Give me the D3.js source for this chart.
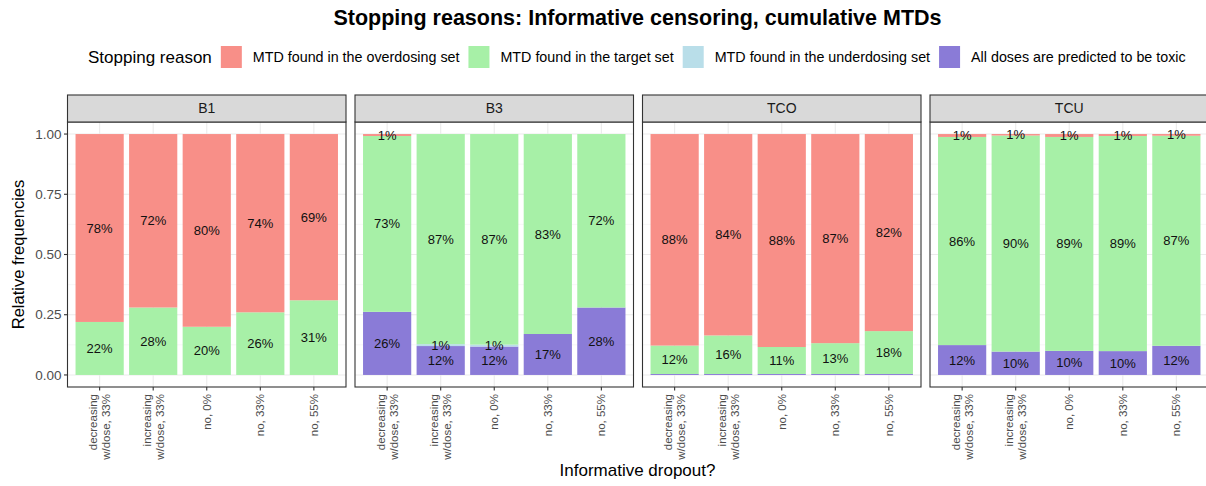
<!DOCTYPE html>
<html><head><meta charset="utf-8">
<script src="https://cdn.jsdelivr.net/npm/d3@7"></script>
<style>body{margin:0;background:#fff}svg{display:block;font-family:"Liberation Sans",Arial,sans-serif}</style>
</head><body><svg id="c" width="1206" height="486"></svg>
<script>
const panels = ["B1", "B3", "TCO", "TCU"];
const categories = ["decreasing\nw/dose, 33%", "increasing\nw/dose, 33%", "no, 0%", "no, 33%", "no, 55%"];
const reasons = ["MTD found in the overdosing set", "MTD found in the target set", "MTD found in the underdosing set", "All doses are predicted to be toxic"];
const reasonColors = ["#F88F88", "#A7F0A7", "#B9DEE9", "#8A7BD7"];
// values per panel (B1, B3, TCO, TCU), per category
const overdosing  = [[0.78, 0.72, 0.80, 0.74, 0.69], [0.008, 0, 0, 0, 0], [0.878, 0.836, 0.884, 0.868, 0.818], [0.012, 0.006, 0.012, 0.008, 0.007]];
const target      = [[0.22, 0.28, 0.20, 0.26, 0.31], [0.73, 0.872, 0.874, 0.83, 0.72], [0.118, 0.16, 0.112, 0.128, 0.178], [0.864, 0.897, 0.888, 0.893, 0.872]];
const underdosing = [[0, 0, 0, 0, 0], [0, 0.008, 0.008, 0, 0], [0, 0, 0, 0, 0], [0, 0, 0, 0, 0]];
const toxic       = [[0, 0, 0, 0, 0], [0.262, 0.12, 0.118, 0.17, 0.28], [0.004, 0.004, 0.004, 0.004, 0.004], [0.124, 0.097, 0.10, 0.099, 0.121]];
const yTicks = [0, 0.25, 0.5, 0.75, 1];
const seriesByReason = [overdosing, target, underdosing, toxic];
const stackOrder = [3, 2, 1, 0]; // bottom to top

const svg = d3.select("#c");
const left = 67.5, panelW = 278.5, gap = 9;
const stripTop = 95, stripH = 27, panelTop = 122, panelBot = 387;

const y = d3.scaleLinear().domain([-0.05, 1.05]).range([panelBot, panelTop]);
const yMinor = [0.125, 0.375, 0.625, 0.875];

// title
svg.append("text").attr("x", 637.5).attr("y", 25).attr("text-anchor", "middle")
  .attr("font-size", 21.5).attr("font-weight", "bold").attr("fill", "#000")
  .text("Stopping reasons: Informative censoring, cumulative MTDs");

// legend
const leg = svg.append("g");
const legTitle = leg.append("text").attr("x", 88).attr("y", 63).attr("font-size", 17).attr("fill", "#000").text("Stopping reason");
let lx = 88 + legTitle.node().getComputedTextLength() + 9;
reasons.forEach((r, i) => {
  leg.append("rect").attr("x", lx).attr("y", 46).attr("width", 21).attr("height", 22).attr("fill", reasonColors[i]);
  const t = leg.append("text").attr("x", lx + 32).attr("y", 62).attr("font-size", 14.3).attr("fill", "#000").text(r);
  lx += 32 + t.node().getComputedTextLength() + 9;
});

panels.forEach((p, pi) => {
  const x0 = left + pi * (panelW + gap);
  // ggplot discrete expansion: band centres at 0.6..4.6 units of width/5.2
  const unit = panelW / 5.2;
  const x = d3.scalePoint().domain(categories).range([x0 + 0.6 * unit, x0 + 4.6 * unit]);
  const cx = c => x(c);
  const bw = 0.9 * unit;
  const g = svg.append("g");
  g.append("rect").attr("x", x0).attr("y", panelTop).attr("width", panelW).attr("height", panelBot - panelTop).attr("fill", "#fff");
  // grid
  g.selectAll(".ymin").data(yMinor).join("line").attr("x1", x0).attr("x2", x0 + panelW)
    .attr("y1", d => y(d)).attr("y2", d => y(d)).attr("stroke", "#F2F2F2").attr("stroke-width", 0.6);
  g.selectAll(".ymaj").data(yTicks).join("line").attr("x1", x0).attr("x2", x0 + panelW)
    .attr("y1", d => y(d)).attr("y2", d => y(d)).attr("stroke", "#EBEBEB").attr("stroke-width", 1.1);
  g.selectAll(".xmaj").data(categories).join("line").attr("x1", d => cx(d)).attr("x2", d => cx(d))
    .attr("y1", panelTop).attr("y2", panelBot).attr("stroke", "#EBEBEB").attr("stroke-width", 1.1);
  // bars
  categories.forEach((c, ci) => {
    let base = 0;
    stackOrder.forEach(ri => {
      const v = seriesByReason[ri][pi][ci];
      if (v <= 0) return;
      const y0 = base, y1 = base + v;
      g.append("rect").attr("x", cx(c) - bw / 2).attr("width", bw)
        .attr("y", y(y1)).attr("height", y(y0) - y(y1)).attr("fill", reasonColors[ri]);
      base = y1;
    });
    base = 0;
    stackOrder.forEach(ri => {
      const v = seriesByReason[ri][pi][ci];
      if (v <= 0) return;
      const pct = Math.round(v * 100);
      if (pct >= 1) {
        g.append("text").attr("x", cx(c)).attr("y", y(base + v / 2)).attr("dy", "0.35em")
          .attr("text-anchor", "middle").attr("font-size", 13).attr("fill", "#111").text(pct + "%");
      }
      base += v;
    });
  });
  // border
  g.append("rect").attr("x", x0).attr("y", panelTop).attr("width", panelW).attr("height", panelBot - panelTop)
    .attr("fill", "none").attr("stroke", "#333").attr("stroke-width", 1.1);
  // strip
  g.append("rect").attr("x", x0).attr("y", stripTop).attr("width", panelW).attr("height", stripH)
    .attr("fill", "#D9D9D9").attr("stroke", "#333").attr("stroke-width", 1.1);
  g.append("text").attr("x", x0 + panelW / 2).attr("y", stripTop + stripH / 2).attr("dy", "0.35em")
    .attr("text-anchor", "middle").attr("font-size", 14).attr("fill", "#1A1A1A").text(p);
  // x ticks
  categories.forEach(c => {
    g.append("line").attr("x1", cx(c)).attr("x2", cx(c)).attr("y1", panelBot).attr("y2", panelBot + 3.5)
      .attr("stroke", "#333").attr("stroke-width", 1.1);
    const lines = c.split("\n");
    const t = g.append("text").attr("transform", `translate(${cx(c)},${panelBot + 7}) rotate(-90)`)
      .attr("text-anchor", "end").attr("font-size", 11.5).attr("fill", "#4D4D4D");
    lines.forEach((l, li) => {
      const off = (li - (lines.length - 1) / 2) * 13;
      t.append("tspan").attr("x", 0).attr("y", off).attr("dy", "0.35em").text(l);
    });
  });
  // y axis on first panel
  if (pi === 0) {
    yTicks.forEach(tk => {
      g.append("line").attr("x1", x0 - 3.5).attr("x2", x0).attr("y1", y(tk)).attr("y2", y(tk)).attr("stroke", "#333").attr("stroke-width", 1.1);
      g.append("text").attr("x", x0 - 6).attr("y", y(tk)).attr("dy", "0.35em").attr("text-anchor", "end")
        .attr("font-size", 13.5).attr("fill", "#4D4D4D").text(d3.format(".2f")(tk));
    });
  }
});

svg.append("text").attr("transform", `translate(24,${(panelTop + panelBot) / 2}) rotate(-90)`)
  .attr("text-anchor", "middle").attr("font-size", 16.5).attr("fill", "#000").text("Relative frequencies");
svg.append("text").attr("x", 637.5).attr("y", 476).attr("text-anchor", "middle")
  .attr("font-size", 17).attr("fill", "#000").text("Informative dropout?");
</script></body></html>
